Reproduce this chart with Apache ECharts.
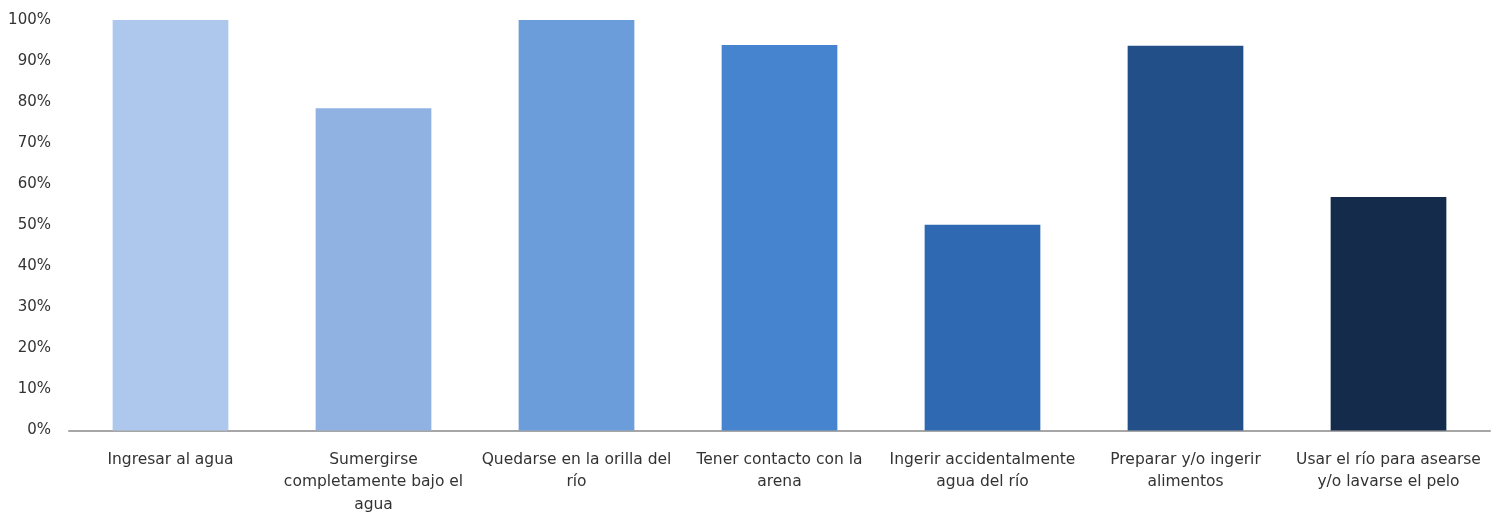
<!DOCTYPE html>
<html>
<head>
<meta charset="utf-8">
<script src="https://cdn.jsdelivr.net/npm/echarts@6/dist/echarts.min.js"></script>
<style>
  html, body { margin: 0; padding: 0; background: #fff; }
  #main { width: 1496px; height: 516px; }
</style>
</head>
<body>
<div id="main"></div>
<script>
// categories (line breaks as in the original labels)
var categories = [
  'Ingresar al agua',
  'Sumergirse\ncompletamente bajo el\nagua',
  'Quedarse en la orilla del\nrío',
  'Tener contacto con la\narena',
  'Ingerir accidentalmente\nagua del río',
  'Preparar y/o ingerir\nalimentos',
  'Usar el río para asearse\ny/o lavarse el pelo'
];
// percent of respondents
var values = [100, 78.5, 100, 93.9, 50.1, 93.7, 56.9];
var barColors = ['#adc8ec', '#8fb2e2', '#6c9ddb', '#4784cf', '#2e69b1', '#224f88', '#142b4b'];

var myChart = echarts.init(document.getElementById('main'));

var seriesData = [];
values.forEach(function (v, i) {
  seriesData.push({ value: v, itemStyle: { color: barColors[i] } });
});

var option = {
  animation: false,
  grid: {
    left: 69,
    right: 6,
    top: 20,
    bottom: 83
  },
  xAxis: {
    type: 'category',
    data: categories,
    axisLine: {
      lineStyle: { color: '#a6a6a6', width: 2 }
    },
    axisTick: { show: false },
    axisLabel: {
      interval: 0,
      margin: 18,
      color: '#333333',
      fontFamily: 'DejaVu Sans',
      fontSize: 15.5,
      lineHeight: 22.5
    }
  },
  yAxis: {
    type: 'value',
    min: 0,
    max: 100,
    interval: 10,
    axisLine: { show: false },
    axisTick: { show: false },
    splitLine: { show: false },
    axisLabel: {
      margin: 18,
      color: '#333333',
      fontFamily: 'DejaVu Sans',
      fontSize: 15,
      formatter: '{value}%'
    }
  },
  series: [
    {
      type: 'bar',
      data: seriesData,
      barWidth: '57%'
    }
  ]
};
myChart.setOption(option);
</script>
</body>
</html>
